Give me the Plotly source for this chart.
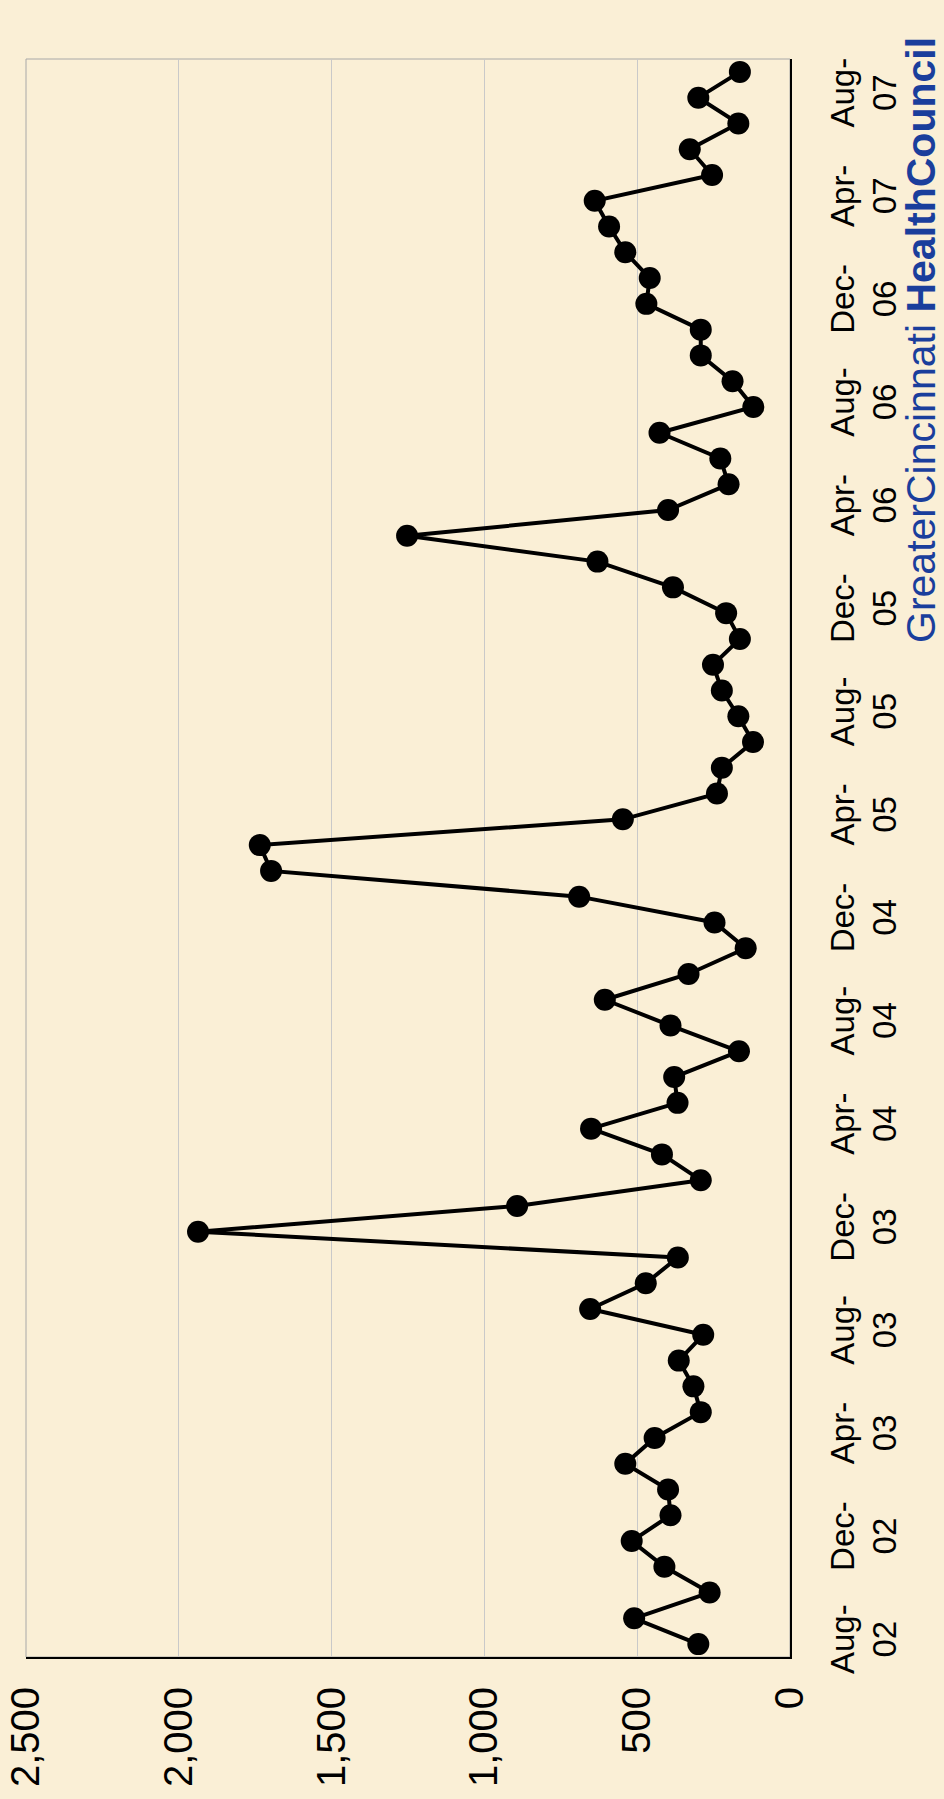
import plotly.graph_objects as go

months = [
    "Aug-02", "Sep-02", "Oct-02", "Nov-02", "Dec-02", "Jan-03", "Feb-03", "Mar-03",
    "Apr-03", "May-03", "Jun-03", "Jul-03", "Aug-03", "Sep-03", "Oct-03", "Nov-03",
    "Dec-03", "Jan-04", "Feb-04", "Mar-04", "Apr-04", "May-04", "Jun-04", "Jul-04",
    "Aug-04", "Sep-04", "Oct-04", "Nov-04", "Dec-04", "Jan-05", "Feb-05", "Mar-05",
    "Apr-05", "May-05", "Jun-05", "Jul-05", "Aug-05", "Sep-05", "Oct-05", "Nov-05",
    "Dec-05", "Jan-06", "Feb-06", "Mar-06", "Apr-06", "May-06", "Jun-06", "Jul-06",
    "Aug-06", "Sep-06", "Oct-06", "Nov-06", "Dec-06", "Jan-07", "Feb-07", "Mar-07",
    "Apr-07", "May-07", "Jun-07", "Jul-07", "Aug-07", "Sep-07",
]

values = [
    300, 510, 263, 411, 518, 391, 399, 539, 443, 292, 316, 364, 284, 654, 472,
    367, 1937, 893, 292, 419, 651, 368, 379, 167, 391, 606, 332, 145, 247, 690, 1698,
    1735, 547, 239, 223, 121, 169, 223, 252, 164, 209, 383, 630, 1253, 399, 201, 228,
    427, 120, 188, 292, 292, 470, 459, 539, 592, 639, 255, 328, 169, 300, 164,
]

date_tick_vals = ["Aug-02", "Dec-02", "Apr-03", "Aug-03", "Dec-03", "Apr-04", "Aug-04",
                  "Dec-04", "Apr-05", "Aug-05", "Dec-05", "Apr-06", "Aug-06", "Dec-06",
                  "Apr-07", "Aug-07"]
date_tick_text = [m.replace("-", "-<br>") for m in date_tick_vals]

value_ticks = [0, 500, 1000, 1500, 2000, 2500]
value_tick_text = ["0", "500", "1,000", "1,500", "2,000", "2,500"]

BG = "#FAEFD6"
FONT = "Liberation Sans, Arial, sans-serif"

W, H = 944, 1799
L, R, T, B = 26, 790, 59, 1657

fig = go.Figure()
fig.add_trace(go.Scatter(
    x=values, y=months, mode="lines+markers",
    line=dict(color="black", width=4),
    marker=dict(color="black", size=22),
    hoverinfo="x+y",
))

fig.update_layout(
    width=W, height=H,
    margin=dict(l=L, r=W - R, t=T, b=H - B, pad=0, autoexpand=False),
    paper_bgcolor=BG, plot_bgcolor=BG,
    showlegend=False,
    xaxis=dict(
        range=[2500, 0], tickmode="array", tickvals=value_ticks, ticktext=value_tick_text,
        tickangle=-90, showgrid=True, gridcolor="#C9C9C9", gridwidth=1,
        zeroline=False, showline=True, linecolor="black", linewidth=2,
        ticks="", ticklabelstandoff=12, automargin=False, ticklabeloverflow="allow",
        tickfont=dict(family=FONT, size=40, color="black"),
    ),
    yaxis=dict(
        type="category", categoryorder="array", categoryarray=months,
        range=[-0.5, len(months) - 0.5], side="right",
        tickmode="array", tickvals=date_tick_vals, ticktext=date_tick_text,
        tickangle=-90, showgrid=False, zeroline=False,
        showline=True, linecolor="black", linewidth=2, ticks="",
        ticklabelstandoff=22, automargin=False, ticklabeloverflow="allow",
        tickfont=dict(family=FONT, size=33, color="black"),
    ),
    shapes=[dict(type="rect", xref="paper", yref="paper", x0=0, x1=1, y0=0, y1=1,
                 line=dict(color="#A8A8A8", width=1), layer="below")],
    annotations=[dict(
        text="GreaterCincinnati <b>HealthCouncil</b>",
        textangle=-90, showarrow=False,
        xref="paper", yref="paper",
        x=(921 - L) / (R - L), y=(B - 645) / (B - T),
        xanchor="center", yanchor="bottom",
        font=dict(family=FONT, size=41, color="#1A3E9C"),
    )],
)

fig.write_html("out.html")
